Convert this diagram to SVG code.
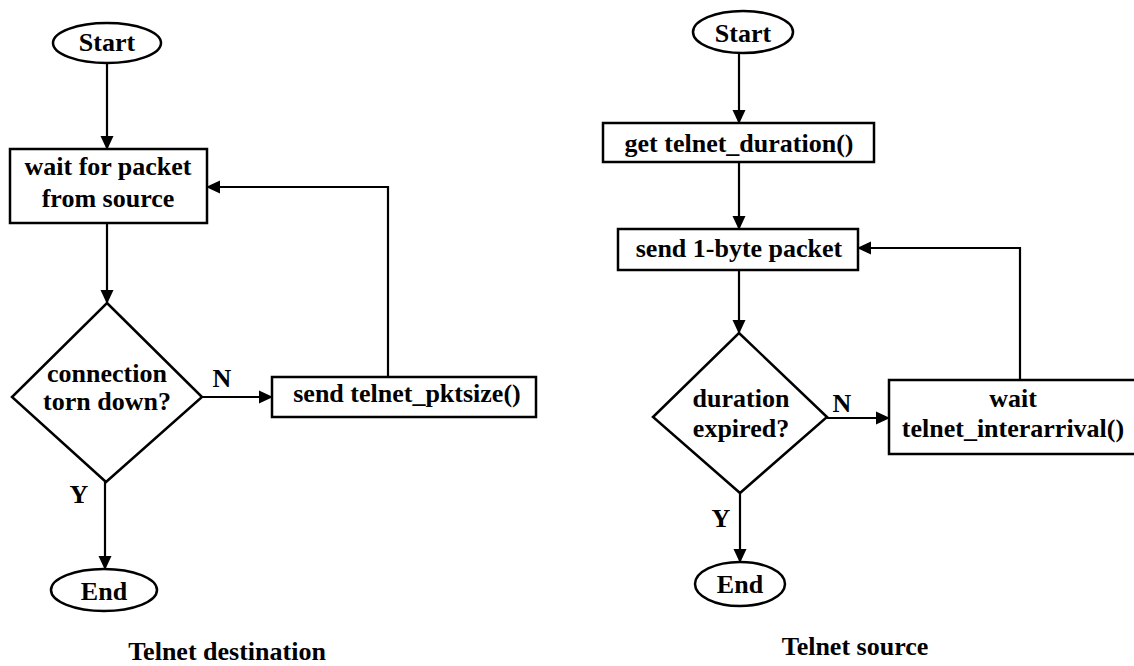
<svg xmlns="http://www.w3.org/2000/svg" width="1134" height="666" viewBox="0 0 1134 666">
<style>
.s{fill:#fff;stroke:#000;stroke-width:2.5}
.t{font-family:"Liberation Serif","Times New Roman",serif;font-weight:bold;font-size:26px;fill:#000;text-anchor:middle}
.c{fill:none;stroke:#000;stroke-width:2.2}
</style>
<defs>
<marker id="ah" markerUnits="userSpaceOnUse" markerWidth="14" markerHeight="14" viewBox="0 0 14 14" refX="13" refY="7" orient="auto">
<path d="M0,0.5 L14,7 L0,13.5 Z" fill="#000"/>
</marker>
</defs>
<rect width="1134" height="666" fill="#fff"/>
<g id="connectors">
<line class="c" x1="107" y1="63" x2="107" y2="149" marker-end="url(#ah)"/>
<line class="c" x1="107" y1="223" x2="107" y2="303" marker-end="url(#ah)"/>
<line class="c" x1="202" y1="397" x2="272" y2="397" marker-end="url(#ah)"/>
<polyline class="c" points="388,377 388,187 207,187" marker-end="url(#ah)"/>
<line class="c" x1="105" y1="482" x2="105" y2="569" marker-end="url(#ah)"/>
<line class="c" x1="739" y1="53" x2="739" y2="123" marker-end="url(#ah)"/>
<line class="c" x1="739" y1="162" x2="739" y2="229" marker-end="url(#ah)"/>
<line class="c" x1="739" y1="270" x2="739" y2="333" marker-end="url(#ah)"/>
<line class="c" x1="827" y1="418" x2="889" y2="418" marker-end="url(#ah)"/>
<polyline class="c" points="1020,380 1020,248 858,248" marker-end="url(#ah)"/>
<line class="c" x1="740" y1="493" x2="740" y2="562" marker-end="url(#ah)"/>
<text class="t" x="222" y="387">N</text>
<text class="t" x="79" y="503">Y</text>
<text class="t" x="842" y="412">N</text>
<text class="t" x="721" y="527">Y</text>
</g>
<g id="d_start">
<ellipse class="s" cx="107" cy="43" rx="54" ry="20"/>
<text class="t" x="107" y="51">Start</text>
</g>
<g id="d_wait">
<rect class="s" x="10" y="149" width="197" height="74"/>
<text class="t" x="108" y="175">wait for packet</text>
<text class="t" x="108" y="207">from source</text>
</g>
<g id="d_decision">
<polygon class="s" points="107,303 202,397 106,482 12,397"/>
<text class="t" x="107" y="382">connection</text>
<text class="t" x="107" y="410">torn down?</text>
</g>
<g id="d_send">
<rect class="s" x="272" y="377" width="264" height="40"/>
<text class="t" x="407" y="402">send telnet_pktsize()</text>
</g>
<g id="d_end">
<ellipse class="s" cx="104" cy="590" rx="53" ry="21"/>
<text class="t" x="104" y="600">End</text>
</g>
<g id="d_title">
<text class="t" x="227" y="660">Telnet destination</text>
</g>
<g id="s_start">
<ellipse class="s" cx="743" cy="32" rx="50" ry="21"/>
<text class="t" x="743" y="42">Start</text>
</g>
<g id="s_get">
<rect class="s" x="603" y="123" width="271" height="39"/>
<text class="t" x="739" y="152">get telnet_duration()</text>
</g>
<g id="s_send">
<rect class="s" x="618" y="229" width="240" height="41"/>
<text class="t" x="739" y="257">send 1-byte packet</text>
</g>
<g id="s_decision">
<polygon class="s" points="739,333 827,417 740,493 653,417"/>
<text class="t" x="741" y="407">duration</text>
<text class="t" x="741" y="437">expired?</text>
</g>
<g id="s_wait">
<rect class="s" x="889" y="380" width="260" height="74"/>
<text class="t" x="1013" y="407">wait</text>
<text class="t" x="1013" y="437">telnet_interarrival()</text>
</g>
<g id="s_end">
<ellipse class="s" cx="740" cy="584" rx="45" ry="22"/>
<text class="t" x="740" y="593">End</text>
</g>
<g id="s_title">
<text class="t" x="855" y="655">Telnet source</text>
</g>
</svg>
